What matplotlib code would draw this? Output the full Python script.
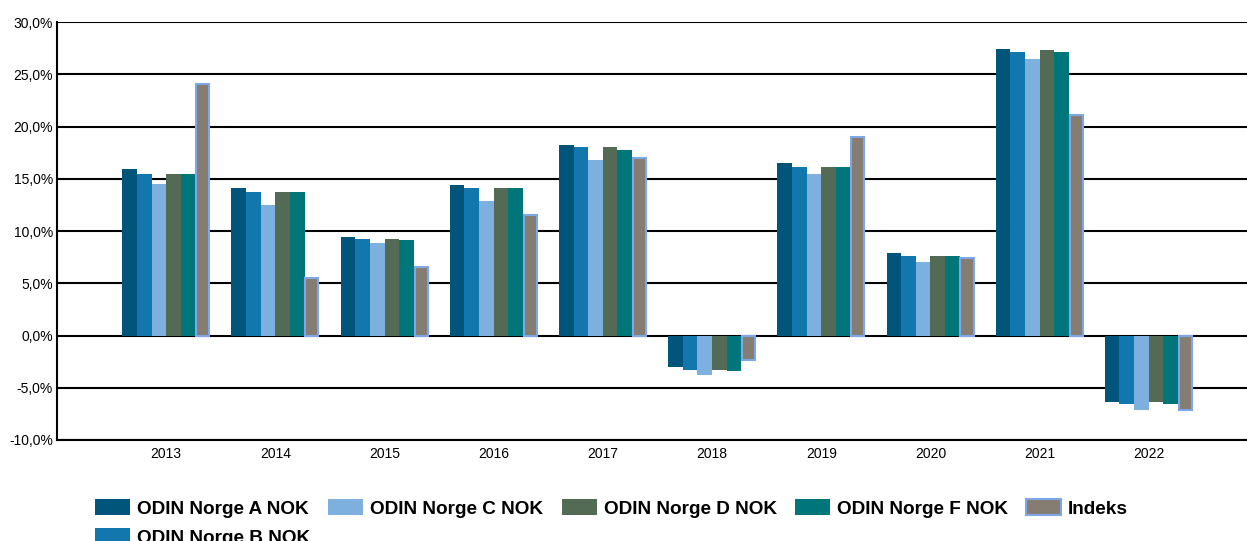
import matplotlib.pyplot as plt
import numpy as np
from matplotlib.ticker import FuncFormatter

years = ['2013', '2014', '2015', '2016', '2017', '2018', '2019', '2020', '2021', '2022']
series_names = ['ODIN Norge A NOK', 'ODIN Norge B NOK', 'ODIN Norge C NOK',
                'ODIN Norge D NOK', 'ODIN Norge F NOK', 'Indeks']

norge_a = [15.9, 14.1, 9.4, 14.4, 18.2, -3.0, 16.5, 7.9, 27.4, -6.4]
norge_b = [15.5, 13.7, 9.2, 14.1, 18.0, -3.3, 16.1, 7.6, 27.1, -6.6]
norge_c = [14.5, 12.5, 8.9, 12.9, 16.8, -3.8, 15.5, 7.0, 26.5, -7.1]
norge_d = [15.5, 13.7, 9.2, 14.1, 18.0, -3.3, 16.1, 7.6, 27.3, -6.4]
norge_f = [15.5, 13.7, 9.1, 14.1, 17.8, -3.4, 16.1, 7.6, 27.1, -6.6]
indeks = [24.1, 5.5, 6.6, 11.5, 17.0, -2.3, 19.0, 7.4, 21.1, -7.1]

colors = ['#02557A', '#1177AD', '#7DAFDF', '#536B54', '#00767A', '#857D71']

plt.rcParams['font.family'] = ['Liberation Sans', 'DejaVu Sans']

fig = plt.figure(figsize=(12.47, 5.41), dpi=100)
ax = fig.add_axes([0.0457, 0.1867, 0.9543, 0.7726])

x = np.arange(len(years))
w = 0.134
all_series = [norge_a, norge_b, norge_c, norge_d, norge_f, indeks]
for i, (vals, name, c) in enumerate(zip(all_series, series_names, colors)):
    if name == 'Indeks':
        ax.bar(x + (i - 2.5) * w, vals, w * 0.9, color=c, label=name,
               edgecolor='#7FA7E8', linewidth=1.5, zorder=3)
    else:
        ax.bar(x + (i - 2.5) * w, vals, w, color=c, label=name, zorder=3)

ax.set_ylim(-10, 30)
ax.set_yticks(np.arange(-10, 31, 5))
ax.yaxis.set_major_formatter(FuncFormatter(lambda v, p: f"{v:.1f}%".replace('.', ',')))
ax.set_xlim(-1.0, 9.9)
ax.set_xticks(x)
ax.set_xticklabels(years)
ax.tick_params(axis='both', length=0, labelsize=10, colors='black')
ax.tick_params(axis='y', pad=3)
ax.tick_params(axis='x', pad=5)

ax.grid(axis='y', color='black', linewidth=1.5, zorder=0)
ax.set_axisbelow(True)
for s in ['top', 'right']:
    ax.spines[s].set_visible(False)
ax.spines['left'].set_linewidth(1.5)
ax.spines['bottom'].set_linewidth(1.5)

leg = fig.legend(loc='upper left', bbox_to_anchor=(0.0762, 0.077), ncol=5, frameon=False,
                 prop={'weight': 'bold', 'size': 13.7},
                 handlelength=1.84, handleheight=0.9, handletextpad=0.37,
                 columnspacing=0.95, labelspacing=0.55, borderaxespad=0, borderpad=0)

fig.savefig('out.png', dpi=100)
